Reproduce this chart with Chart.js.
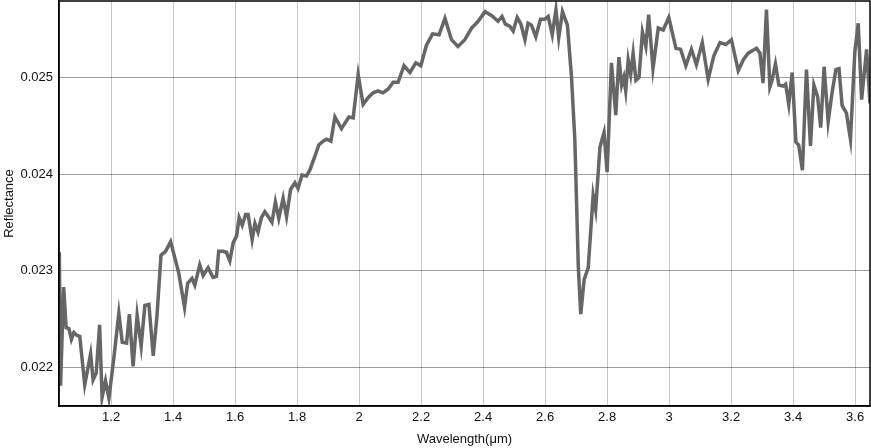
<!DOCTYPE html>
<html>
<head>
<meta charset="utf-8">
<script src="https://cdn.jsdelivr.net/npm/chart.js@4/dist/chart.umd.min.js"></script>
<style>
    html, body { margin: 0; padding: 0; background: #fff; }
    #wrap { width: 871px; height: 448px; }
</style>
</head>
<body>
<div id="wrap"><canvas id="chart-spectrum"></canvas></div>
<script>
// wavelength (um) and reflectance
var wavelengths = [
    1.033, 1.037, 1.047, 1.055, 1.064, 1.072, 1.080, 1.090, 1.099, 1.115,
    1.134, 1.142, 1.152, 1.163, 1.171, 1.182, 1.193, 1.209, 1.225, 1.236,
    1.250, 1.259, 1.271, 1.284, 1.297, 1.309, 1.322, 1.336, 1.348, 1.361,
    1.376, 1.392, 1.418, 1.437, 1.447, 1.461, 1.470, 1.486, 1.497, 1.513,
    1.529, 1.540, 1.547, 1.561, 1.572, 1.583, 1.594, 1.605, 1.613, 1.623,
    1.634, 1.642, 1.655, 1.664, 1.674, 1.685, 1.696, 1.707, 1.719, 1.730,
    1.741, 1.755, 1.766, 1.779, 1.793, 1.803, 1.816, 1.830, 1.841, 1.857,
    1.870, 1.884, 1.895, 1.909, 1.922, 1.943, 1.967, 1.981, 1.997, 2.013,
    2.029, 2.045, 2.061, 2.077, 2.094, 2.110, 2.126, 2.145, 2.164, 2.183,
    2.199, 2.217, 2.237, 2.258, 2.277, 2.298, 2.319, 2.341, 2.363, 2.384,
    2.406, 2.427, 2.448, 2.461, 2.472, 2.486, 2.497, 2.510, 2.522, 2.535,
    2.545, 2.556, 2.570, 2.585, 2.599, 2.610, 2.623, 2.635, 2.644, 2.656,
    2.672, 2.685, 2.696, 2.707, 2.715, 2.726, 2.739, 2.755, 2.763, 2.777,
    2.790, 2.800, 2.814, 2.828, 2.838, 2.847, 2.854, 2.860, 2.868, 2.876,
    2.884, 2.893, 2.903, 2.914, 2.925, 2.934, 2.948, 2.965, 2.981, 2.999,
    3.022, 3.037, 3.054, 3.072, 3.088, 3.107, 3.126, 3.144, 3.164, 3.183,
    3.201, 3.223, 3.239, 3.255, 3.271, 3.282, 3.293, 3.303, 3.314, 3.325,
    3.332, 3.343, 3.354, 3.368, 3.376, 3.386, 3.397, 3.409, 3.418, 3.430,
    3.443, 3.456, 3.467, 3.479, 3.489, 3.500, 3.513, 3.526, 3.538, 3.548,
    3.558, 3.572, 3.585, 3.599, 3.610, 3.621, 3.637, 3.648
];
var reflectance = [
    0.02319, 0.02181, 0.02283, 0.02241, 0.02240, 0.02229, 0.02236, 0.02233, 0.02232, 0.02182,
    0.02214, 0.02187, 0.02194, 0.02244, 0.02169, 0.02186, 0.02168, 0.02210, 0.02256, 0.02226,
    0.02225, 0.02255, 0.02201, 0.02254, 0.02222, 0.02264, 0.02265, 0.02212, 0.02253, 0.02316,
    0.02320, 0.02330, 0.02298, 0.02262, 0.02287, 0.02292, 0.02285, 0.02306, 0.02295, 0.02303,
    0.02293, 0.02294, 0.02320, 0.02320, 0.02319, 0.02310, 0.02329, 0.02336, 0.02355, 0.02347,
    0.02358, 0.02358, 0.02332, 0.02349, 0.02340, 0.02355, 0.02361, 0.02356, 0.02350, 0.02371,
    0.02354, 0.02375, 0.02356, 0.02384, 0.02391, 0.02385, 0.02399, 0.02398, 0.02404, 0.02418,
    0.02430, 0.02434, 0.02436, 0.02434, 0.02459, 0.02447, 0.02459, 0.02458, 0.02503, 0.02472,
    0.02479, 0.02484, 0.02486, 0.02484, 0.02488, 0.02495, 0.02495, 0.02512, 0.02505, 0.02515,
    0.02512, 0.02533, 0.02545, 0.02544, 0.02561, 0.02539, 0.02532, 0.02539, 0.02551, 0.02558,
    0.02568, 0.02564, 0.02558, 0.02563, 0.02555, 0.02553, 0.02548, 0.02562, 0.02555, 0.02539,
    0.02556, 0.02554, 0.02542, 0.02560, 0.02560, 0.02563, 0.02544, 0.02570, 0.02541, 0.02568,
    0.02554, 0.02501, 0.02435, 0.02305, 0.02255, 0.02291, 0.02303, 0.02378, 0.02363, 0.02428,
    0.02443, 0.02402, 0.02515, 0.02461, 0.02521, 0.02492, 0.02500, 0.02486, 0.02518, 0.02503,
    0.02525, 0.02497, 0.02500, 0.02547, 0.02532, 0.02565, 0.02509, 0.02551, 0.02549, 0.02562,
    0.02530, 0.02529, 0.02512, 0.02529, 0.02513, 0.02536, 0.02498, 0.02522, 0.02536, 0.02534,
    0.02539, 0.02507, 0.02518, 0.02525, 0.02528, 0.02530, 0.02525, 0.02494, 0.02570, 0.02490,
    0.02497, 0.02514, 0.02492, 0.02491, 0.02493, 0.02472, 0.02505, 0.02433, 0.02430, 0.02404,
    0.02508, 0.02429, 0.02492, 0.02480, 0.02448, 0.02511, 0.02454, 0.02485, 0.02508, 0.02509,
    0.02471, 0.02463, 0.02436, 0.02526, 0.02556, 0.02477, 0.02529, 0.02473
];
var xTicks = [1.2, 1.4, 1.6, 1.8, 2, 2.2, 2.4, 2.6, 2.8, 3, 3.2, 3.4, 3.6];
var yTicks = [0.022, 0.023, 0.024, 0.025];

var FONT = '"Liberation Sans", Arial, Helvetica, sans-serif';

/* black frame round the plot area (top and right sides too) */
var framePlugin = {
    id: 'frame',
    afterDatasetsDraw: function(chart) {
        var a = chart.chartArea, c = chart.ctx;
        c.save();
        c.strokeStyle = '#000';
        c.lineWidth = 1.5;
        c.strokeRect(a.left, a.top, a.right - a.left, a.bottom - a.top);
        c.restore();
    }
};

var points = wavelengths.map(function(w, i) { return { x: w, y: reflectance[i] }; });

var ctx = document.getElementById('chart-spectrum');
var myChart = new Chart(ctx, {
    type: 'line',
    data: {
        datasets: [{
            label: 'Reflectance',
            data: points,
            borderColor: '#666666',
            borderWidth: 3.5,
            pointRadius: 0,
            tension: 0,
            fill: false
        }]
    },
    options: {
        responsive: true,
        maintainAspectRatio: false,
        animation: false,
        layout: { padding: { top: 1, right: 1, left: 0, bottom: 0 } },
        plugins: {
            legend: { display: false },
            tooltip: { enabled: false }
        },
        scales: {
            x: {
                type: 'linear',
                min: 1.032,
                max: 3.648,
                afterBuildTicks: function(scale) {
                    scale.ticks = xTicks.map(function(v) { return { value: v }; });
                },
                afterFit: function(scale) {
                    scale.height = 42;
                    scale.paddingLeft = 0;
                    scale.paddingRight = 0;
                },
                grid: { color: 'rgba(0,0,0,0.22)', drawTicks: false },
                border: { color: '#000', width: 1.5 },
                ticks: {
                    color: '#111',
                    padding: 4,
                    maxRotation: 0,
                    font: { family: FONT, size: 13 },
                    callback: function(v) { return String(+v.toFixed(1)); }
                },
                title: {
                    display: true,
                    text: 'Wavelength(μm)',
                    color: '#111',
                    padding: { top: 0, bottom: 1 },
                    font: { family: FONT, size: 13 }
                }
            },
            y: {
                min: 0.0216,
                max: 0.02579,
                afterBuildTicks: function(scale) {
                    scale.ticks = yTicks.map(function(v) { return { value: v }; });
                },
                afterFit: function(scale) {
                    scale.width = 59;
                    scale.paddingTop = 0;
                    scale.paddingBottom = 0;
                },
                grid: { color: 'rgba(0,0,0,0.38)', drawTicks: false },
                border: { color: '#000', width: 1.5 },
                ticks: {
                    color: '#111',
                    padding: 6,
                    font: { family: FONT, size: 13 },
                    callback: function(v) { return v.toFixed(3); }
                },
                title: {
                    display: true,
                    text: 'Reflectance',
                    color: '#111',
                    padding: { top: 2, bottom: 0 },
                    font: { family: FONT, size: 13 }
                }
            }
        }
    },
    plugins: [framePlugin]
});
</script>
</body>
</html>
